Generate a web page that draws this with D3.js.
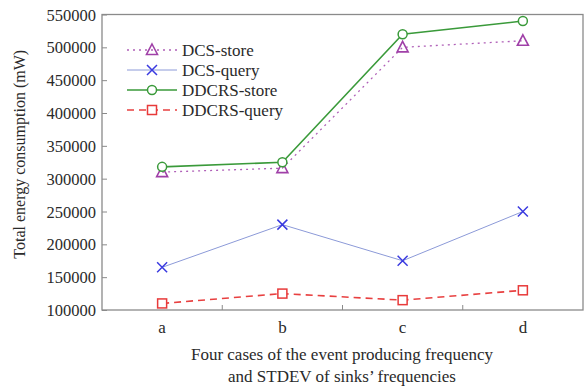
<!DOCTYPE html>
<html>
<head>
<meta charset="utf-8">
<script src="https://cdn.jsdelivr.net/npm/d3@7"></script>
<style>
  body { margin: 0; background: #fff; }
  svg text { font-family: 'Liberation Serif', 'DejaVu Serif', serif !important; fill: #2a2a2a; }
</style>
</head>
<body>
<svg id="chart" width="588" height="389"></svg>
<script>
// Energy consumption for four cases of event frequency / sink-frequency STDEV
const categories = ["a", "b", "c", "d"];
const dcsStore = [310000, 316000, 500000, 510000];
const dcsQuery = [165000, 230000, 175000, 250000];
const ddcrsStore = [318000, 325000, 520000, 540000];
const ddcrsQuery = [110000, 125000, 115000, 130000];
const yTicks = [100000, 150000, 200000, 250000, 300000, 350000, 400000, 450000, 500000, 550000];

const series = [
  { name: "DCS-store", values: dcsStore, color: "#a040a8", line: "#b060b8", width: 1.3, dash: "2,4", marker: "triangle" },
  { name: "DCS-query", values: dcsQuery, color: "#3a3ae0", line: "#8c9ad8", width: 1, dash: null, marker: "cross" },
  { name: "DDCRS-store", values: ddcrsStore, color: "#3a9a3a", line: "#3a9a3a", width: 1.6, dash: null, marker: "circle" },
  { name: "DDCRS-query", values: ddcrsQuery, color: "#e83a3a", line: "#e84040", width: 1.6, dash: "7,5", marker: "square" }
];

const svg = d3.select("#chart");
const m = { left: 102, right: 583, top: 14.5, bottom: 310 };

const x = d3.scaleBand().domain(categories).range([m.left, m.right]);
const y = d3.scaleLinear().domain([100000, 550000]).range([m.bottom, m.top]);

// plot frame
svg.append("rect")
  .attr("x", m.left).attr("y", m.top)
  .attr("width", m.right - m.left).attr("height", m.bottom - m.top)
  .attr("fill", "none").attr("stroke", "#8a8a8a").attr("stroke-width", 1.3);

// y axis: ticks pointing inward
const yAxis = svg.append("g").attr("transform", `translate(${m.left},0)`)
  .call(d3.axisLeft(y).tickValues(yTicks).tickSize(-5).tickPadding(6).tickFormat(d3.format("d")));
yAxis.attr("font-family", null).attr("font-size", null);
yAxis.select(".domain").remove();
yAxis.selectAll("line").attr("stroke", "#8a8a8a");
yAxis.selectAll("text").style("font-size", "16.5px").attr("dy", "0.34em");

// x axis: category boundary ticks inward, labels at band centers
const xg = svg.append("g");
xg.selectAll("line.sep").data(categories.slice(1)).join("line")
  .attr("x1", d => x(d)).attr("x2", d => x(d))
  .attr("y1", m.bottom).attr("y2", m.bottom - 5)
  .attr("stroke", "#8a8a8a");
xg.selectAll("text.cat").data(categories).join("text")
  .attr("x", d => x(d) + x.bandwidth() / 2)
  .attr("y", m.bottom + 23)
  .attr("text-anchor", "middle")
  .style("font-size", "17px")
  .text(d => d);

// axis titles
svg.append("text")
  .attr("transform", `translate(25,${(m.top + m.bottom) / 2 - 8}) rotate(-90)`)
  .attr("text-anchor", "middle")
  .style("font-size", "16px")
  .text("Total energy consumption (mW)");
const xt = svg.append("text").attr("text-anchor", "middle").style("font-size", "17px");
xt.append("tspan").attr("x", 342).attr("y", 360).text("Four cases of the event producing frequency");
xt.append("tspan").attr("x", 342).attr("y", 382).text("and STDEV of sinks\u2019 frequencies");

function drawMarker(g, type, color) {
  if (type === "triangle") {
    g.append("path").attr("d", "M0,-6L5.5,4.5L-5.5,4.5Z").attr("fill", "none").attr("stroke", color).attr("stroke-width", 1.6);
  } else if (type === "cross") {
    g.append("path").attr("d", "M-5,-5L5,5M-5,5L5,-5").attr("stroke", color).attr("stroke-width", 1.5);
  } else if (type === "circle") {
    g.append("circle").attr("r", 4.5).attr("fill", "#fff").attr("stroke", color).attr("stroke-width", 1.5);
  } else if (type === "square") {
    g.append("rect").attr("x", -4.5).attr("y", -4.5).attr("width", 9).attr("height", 9)
      .attr("fill", "#fff").attr("stroke", color).attr("stroke-width", 1.5);
  }
}

const line = d3.line().x((d, i) => x(categories[i]) + x.bandwidth() / 2).y(d => y(d));

series.forEach(s => {
  svg.append("path").datum(s.values)
    .attr("d", line).attr("fill", "none")
    .attr("stroke", s.line).attr("stroke-width", s.width)
    .attr("stroke-dasharray", s.dash);
  s.values.forEach((v, i) => {
    const g = svg.append("g").attr("transform", `translate(${x(categories[i]) + x.bandwidth() / 2},${y(v)})`);
    drawMarker(g, s.marker, s.color);
  });
});

// legend
const legend = svg.append("g").attr("transform", "translate(127,50)");
series.forEach((s, i) => {
  const row = legend.append("g").attr("transform", `translate(0,${i * 20})`);
  row.append("line").attr("x1", 0).attr("x2", 50).attr("y1", 0).attr("y2", 0)
    .attr("stroke", s.line).attr("stroke-width", s.width).attr("stroke-dasharray", s.dash);
  drawMarker(row.append("g").attr("transform", "translate(25,0)"), s.marker, s.color);
  row.append("text").attr("x", 55).attr("y", 6).style("font-size", "17px").text(s.name);
});
</script>
</body>
</html>
